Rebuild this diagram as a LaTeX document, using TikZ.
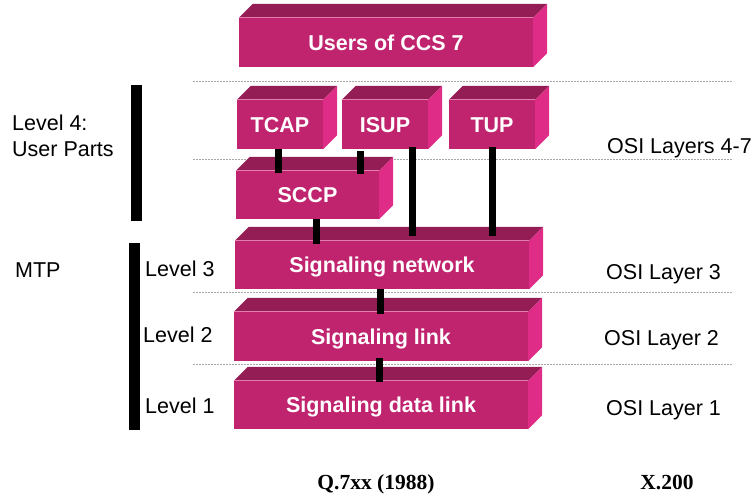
\documentclass[tikz,border=0pt]{standalone}
\usepackage{fontspec}
\setmainfont{Liberation Sans}
\newfontfamily\timesbf{Liberation Serif}
\usepackage{tikz}

\definecolor{ccsfront}{HTML}{C1246F}
\definecolor{ccstop}{HTML}{951D56}
\definecolor{ccsside}{HTML}{DF2D87}
\definecolor{ccsrim}{HTML}{E27FAF}

\tikzset{
  front/.style={fill=ccsfront, text=white, inner sep=0pt,
    font=\bfseries\fontsize{21.5}{24}\selectfont,
    text height=15.5pt, text depth=0pt},
  sidetext/.style={font=\fontsize{21.5}{24}\selectfont, inner sep=0pt},
  bottomtext/.style={font=\timesbf\bfseries\fontsize{21.5}{24}\selectfont, inner sep=0pt},
  bar/.style={line width=7pt, black},
  bracket/.style={line width=11pt, black},
  sepline/.style={line width=0.8pt, black!35, dash pattern=on 2pt off 1pt}
}

\begin{document}
\begin{tikzpicture}[x=1pt, y=-1pt]
                \useasboundingbox (0,0) rectangle (755,495);

                % dotted separators
                \draw[sepline] (193,81) -- (733,81);
                \draw[sepline] (193,159) -- (733,159);
                \draw[sepline] (193,292) -- (733,292);
                \draw[sepline] (193,364) -- (733,364);

                % front faces
                \node[front, minimum width=294pt, minimum height=49pt] (users) at (386,42.5) {Users of CCS 7};
                \node[front, minimum width=86pt, minimum height=49pt] (tcap) at (280,124.5) {TCAP};
                \node[front, minimum width=86pt, minimum height=49pt] (isup) at (385,124.5) {ISUP};
                \node[front, minimum width=86pt, minimum height=49pt] (tup) at (492,124.5) {TUP};
                \node[front, minimum width=143pt, minimum height=48pt] (sccp) at (307.5,195) {SCCP};
                \node[front, minimum width=294pt, minimum height=48pt] (net) at (382,265) {Signaling network};
                \node[front, minimum width=294pt, minimum height=49pt] (link) at (381,336.5) {Signaling link};
                \node[front, minimum width=294pt, minimum height=48pt] (data) at (381,405) {Signaling data link};

                % top and side faces
                \foreach \b in {users,tcap,isup,tup,sccp,net,link,data} {
                    \fill[ccstop] (\b.north west) -- ++(14,-14) -- ([shift={(14,-14)}]\b.north east) -- (\b.north east) -- cycle;
                    \fill[ccsside] (\b.north east) -- ++(14,-14) -- ([shift={(14,-14)}]\b.south east) -- (\b.south east) -- cycle;
                    \draw[ccsrim, line width=0.8pt] (\b.north west) -- (\b.north east);
                }

                % connections between layers
                \draw[bar] ([xshift=-2pt]tcap.south) -- ([xshift=-2pt,yshift=-2pt]tcap.south |- sccp.north);
                \draw[bar] ([xshift=-25pt,yshift=-2pt]isup.south) -- ([xshift=-25pt,yshift=-3pt]isup.south |- sccp.north);
                \draw[bar] ([xshift=27pt,yshift=2pt]isup.south) -- ([xshift=27pt,yshift=5pt]isup.south |- net.north);
                \draw[bar] ([yshift=2pt]tup.south) -- ([yshift=5pt]tup.south |- net.north);
                \draw[bar] ([xshift=8.5pt]sccp.south) -- ([xshift=8.5pt,yshift=-3pt]sccp.south |- net.north);
                \draw[bar] ([xshift=-2pt]net.south) -- ([xshift=-2pt,yshift=-2pt]net.south |- link.north);
                \draw[bar] ([xshift=-2pt,yshift=3pt]link.south) -- ([xshift=-2pt,yshift=-1pt]link.south |- data.north);

                % level brackets
                \draw[bracket] (136.5,85) -- (136.5,221);
                \draw[bracket] (134.5,243) -- (134.5,430);

                % left labels
                \node[sidetext, anchor=base west] (lvlfour) at (12,130) {Level 4:};
                \node[sidetext, anchor=base west] (userparts) at (12,156) {User Parts};
                \node[sidetext, anchor=base west] (mtp) at (15,277) {MTP};
                \node[sidetext, anchor=base west] (lvlthree) at (145,276) {Level 3};
                \node[sidetext, anchor=base west] (lvltwo) at (143,342) {Level 2};
                \node[sidetext, anchor=base west] (lvlone) at (145,413) {Level 1};

                % right labels
                \node[sidetext, anchor=base west] (osifour) at (607,153) {OSI Layers 4-7};
                \node[sidetext, anchor=base west] (osithree) at (606,279) {OSI Layer 3};
                \node[sidetext, anchor=base west] (ositwo) at (604,345) {OSI Layer 2};
                \node[sidetext, anchor=base west] (osione) at (606,415) {OSI Layer 1};

                % recommendations
                \node[bottomtext, anchor=base] (qseries) at (376,489) {Q.7xx (1988)};
                \node[bottomtext, anchor=base] (xseries) at (667,489) {X.200};
            \end{tikzpicture}
\end{document}
